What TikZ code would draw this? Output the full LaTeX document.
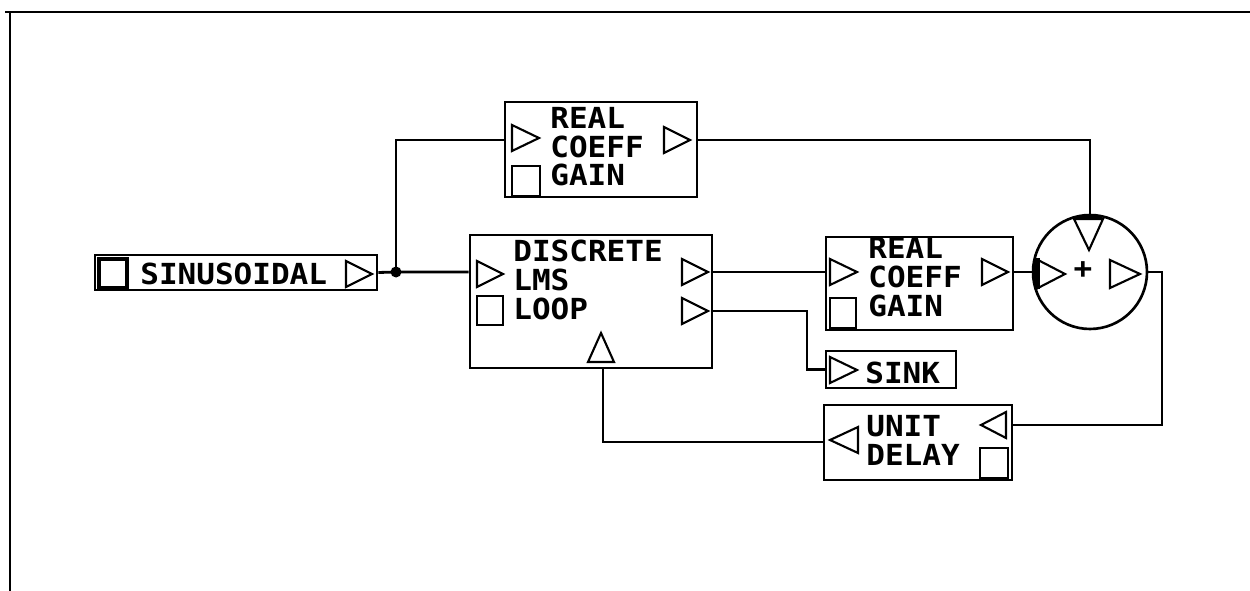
\documentclass[tikz,border=0pt]{standalone}
\usepackage{fontspec}
\newfontfamily\blkfont{DejaVu Sans Mono}[FakeStretch=1.07]
\usetikzlibrary{positioning, calc}

\begin{document}
\begin{tikzpicture}[
    x=0.02cm, y=-0.02cm,
    block/.style={draw, line width=1.5pt, inner sep=0pt},
    wire/.style={line width=1.6pt},
    port/.style={line width=1.2pt, line join=miter},
    knob/.style={line width=1.2pt},
    lbl/.style={inner sep=0pt, align=left, font=\blkfont\bfseries\fontsize{16.5}{16.5}\selectfont},
]
\useasboundingbox (0,0) rectangle (1250,591);

% frame
\draw[line width=1.2pt] (5,12) -- (1250,12);
\draw[line width=0.9pt] (10,12) -- (10,591);

% blocks
\node[block, minimum width=5.64cm, minimum height=0.70cm] (sin) at (236,272.5) {};
\node[block, minimum width=3.84cm, minimum height=1.90cm] (gainA) at (601,149.5) {};
\node[block, minimum width=4.84cm, minimum height=2.66cm] (lms) at (591,301.5) {};
\node[block, minimum width=3.74cm, minimum height=1.86cm] (gainB) at (919.5,283.5) {};
\node[block, circle, minimum size=2.28cm] (sum) at (1090,272) {};
\node[block, minimum width=2.60cm, minimum height=0.74cm] (sink) at (891,369.5) {};
\node[block, minimum width=3.76cm, minimum height=1.50cm] (delay) at (918,442.5) {};

% labels (base = last line)
\node[lbl, anchor=base west] (sinT) at (140,284) {SINUSOIDAL};
\node[lbl, anchor=base west] (gainAT) at (550,186) {REAL\\COEFF\\GAIN};
\node[lbl, anchor=base west] (lmsT) at (513,319) {DISCRETE\\LMS\\LOOP};
\node[lbl, anchor=base west] (gainBT) at (868,316) {REAL\\COEFF\\GAIN};
\node[lbl, anchor=base west] (sinkT) at (865,383) {SINK};
\node[lbl, anchor=base west] (delayT) at (866,465) {UNIT\\DELAY};
\node[lbl] (plus) at (1083,270) {+};

% ports
\draw[port] (346,261) -- ++(26,13) -- ++(-26,13) -- cycle;
\draw[port] (512,125) -- ++(27,13) -- ++(-27,13) -- cycle;
\draw[port] (664,127) -- ++(26,13) -- ++(-26,13) -- cycle;
\draw[port] (477,261) -- ++(26,13) -- ++(-26,13) -- cycle;
\draw[port] (682,259) -- ++(26,13) -- ++(-26,13) -- cycle;
\draw[port] (682,298) -- ++(26,13) -- ++(-26,13) -- cycle;
\draw[port] (830,259) -- ++(27,13) -- ++(-27,13) -- cycle;
\draw[port] (982,259) -- ++(26,13) -- ++(-26,13) -- cycle;
\draw[port] (1038,260) -- ++(27,14) -- ++(-27,14) -- cycle;
\draw[port] (1110,260) -- ++(30,14) -- ++(-30,14) -- cycle;
\draw[port] (830,357) -- ++(27,13) -- ++(-27,13) -- cycle;
\draw[port] (858,427) -- ++(-28,13) -- ++(28,13) -- cycle;
\draw[port] (1006,412) -- ++(-25,13) -- ++(25,13) -- cycle;
\draw[port] (588,362) -- ++(13,-29) -- ++(13,29) -- cycle;
\draw[port] (1074,219) -- ++(15,31) -- ++(14,-31) -- cycle;
\draw[line width=3pt] (1037,258) -- (1037,289);
\draw[line width=2.5pt] (1076,218) -- (1102,218);

% parameter knobs
\draw[knob, line width=1.9pt] (99,259) rectangle (127,288);
\draw[knob] (512,166) rectangle (540,196);
\draw[knob] (477,296) rectangle (503,325);
\draw[knob, line width=1.6pt] (830,298) rectangle (856,328);
\draw[knob] (980,448) rectangle (1008,478);

% connections
\coordinate (dot) at (396,272);
\coordinate (bend) at (807,311);
\coordinate (back) at (1162,272);
\coordinate (fbk) at (603,368);
\fill (dot) circle (5.5);
\draw[wire] (sin.east) -- (dot) -- (lms.west |- dot);
\draw[wire] (dot) |- (gainA.west |- 0,140);
\draw[wire] (gainA.east |- 0,140) -| (sum.north);
\draw[wire] (lms.east |- 0,272) -- (gainB.west |- 0,272);
\draw[wire] (lms.east |- bend) -- (bend) |- (sink.west);
\draw[wire] (gainB.east |- 0,272) -- (sum.west);
\draw[wire] (sum.east) -- (back) |- (delay.east |- 0,425);
\draw[wire] (delay.west |- 0,442) -| (fbk);
\end{tikzpicture}
\end{document}
